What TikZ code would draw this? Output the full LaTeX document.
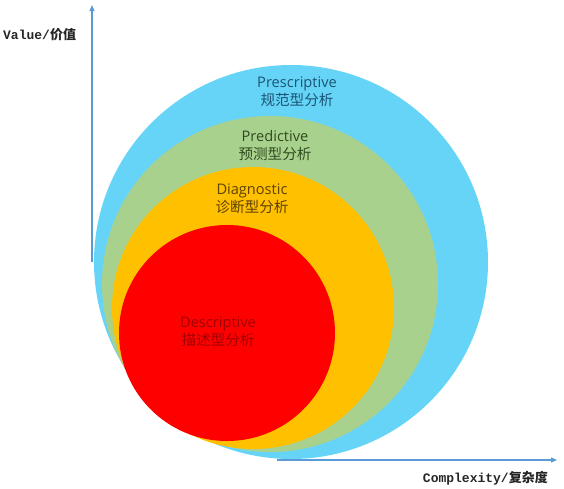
\documentclass[tikz,border=0pt]{standalone}
\usepackage{fontspec}
\setmainfont{Open Sans}
\newfontfamily\cjk{Noto Sans CJK SC}
\newfontfamily\mono{Liberation Mono}[BoldFont={Liberation Mono Bold}]
\usetikzlibrary{arrows.meta}
\definecolor{cblue}{HTML}{66D4F7}
\definecolor{cgreen}{HTML}{A9D18E}
\definecolor{corange}{HTML}{FFC000}
\definecolor{cred}{HTML}{FF0000}
\definecolor{axisc}{HTML}{5B9BD5}
\definecolor{tblue}{HTML}{1A5575}
\definecolor{tgreen}{HTML}{304A1E}
\definecolor{tbrown}{HTML}{5E4100}
\definecolor{tred}{HTML}{A00000}
\tikzset{
  axisline/.style={draw=axisc, line width=1.3pt, -{Triangle[length=6pt,width=5pt]}},
  lbl/.style={align=center, font=\fontsize{14.6}{18}\selectfont, inner sep=0pt},
  axlbl/.style={font=\mono\bfseries\fontsize{13}{15}\selectfont, inner sep=0pt, text=black!85}
}
\begin{document}
\begin{tikzpicture}[x=1pt,y=-1pt]
\useasboundingbox (0,0) rectangle (564,488);
% circles
\fill[cblue]   (291,262) circle (197);
\fill[cgreen]  (270,284) circle (168);
\fill[corange] (253,308) circle (141);
\fill[cred]    (227,333) circle (108);
% axes
\coordinate (vstart) at (92,262);
\coordinate (vend) at (92,5);
\coordinate (hstart) at (277,460);
\coordinate (hend) at (557,460);
\draw[axisline] (vstart) -- (vend);
\draw[axisline] (hstart) -- (hend);
% labels
\node[lbl, text=tblue] (pres) at (297,92) {Prescriptive\\{\cjk 规范型分析}};
\node[lbl, text=tgreen] (pred) at (275,146) {Predictive\\{\cjk 预测型分析}};
\node[lbl, text=tbrown] (diag) at (252,199) {Diagnostic\\{\cjk 诊断型分析}};
\node[lbl, text=tred] (desc) at (218,332) {Descriptive\\{\cjk 描述型分析}};
\node[axlbl, anchor=west] (val) at (3,35) {Value/{\cjk\bfseries 价值}};
\node[axlbl, anchor=east] (cpx) at (548,478) {Complexity/{\cjk\bfseries 复杂度}};
\end{tikzpicture}
\end{document}
